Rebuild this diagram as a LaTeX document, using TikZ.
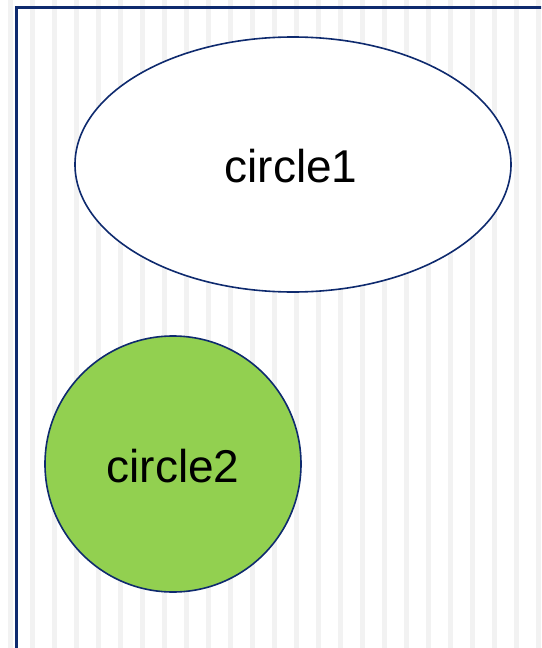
\documentclass[tikz,border=0pt]{standalone}
\usepackage{fontspec}
\setmainfont{Liberation Sans}
\definecolor{navy}{HTML}{0E2A6E}
\definecolor{stripe}{HTML}{F2F2F2}
\definecolor{leaf}{HTML}{92D050}
\begin{document}
\begin{tikzpicture}[x=1pt,y=-1pt,
  shapeline/.style={draw=navy,line width=1.6pt},
  lbl/.style={font=\fontsize{46}{50}\selectfont}]
\useasboundingbox (0,0) rectangle (541,648);
\clip (0,0) rectangle (541,648);
\fill[white] (0,0) rectangle (541,648);
\foreach \i in {0,...,24}{
  \fill[stripe] ({8+22*\i},0) rectangle ({13+22*\i},648);
}
\draw[navy,line width=3pt] (16,700) -- (16,7) -- (600,7);
\draw[shapeline,fill=white] (293,164.5) ellipse [x radius=218, y radius=127.5];
\node[lbl] (c1) at (291,166) {circle1};
\draw[shapeline,fill=leaf] (173,464) circle [radius=128];
\node[lbl] (c2) at (173,466) {circle2};
\end{tikzpicture}
\end{document}
